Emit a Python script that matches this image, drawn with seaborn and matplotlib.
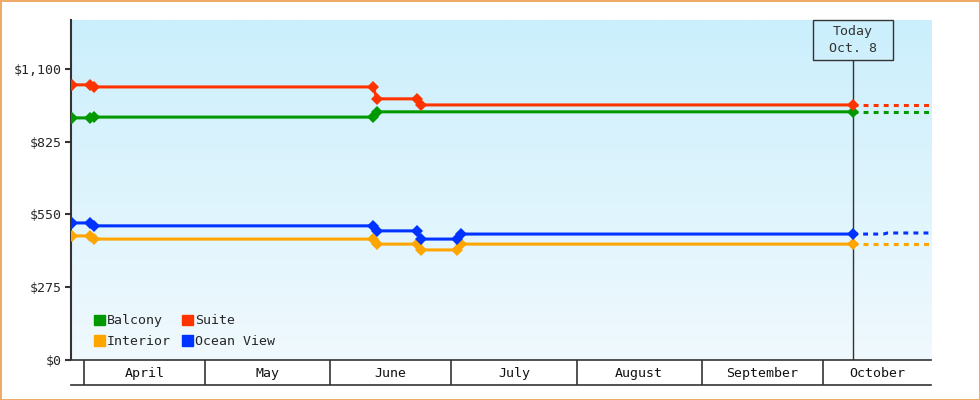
import numpy as np
import pandas as pd
import matplotlib
matplotlib.use('Agg')
import matplotlib.pyplot as plt
from matplotlib.patches import Patch, Rectangle
import seaborn as sns

# 价格数据（天数以4月1日为0）
balcony_days = [-3, 1.5, 2.5, 71.6, 72.6, 190.5]
balcony = [915, 915, 918, 918, 938, 938]
suite_days = [-3, 1.5, 2.5, 71.6, 72.6, 82.5, 83.5, 190.5]
suite = [1040, 1040, 1032, 1032, 987, 987, 964, 964]
interior_days = [-3, 1.5, 2.5, 71.6, 72.6, 82.5, 83.5, 92.5, 93.5, 190.5]
interior = [469, 469, 457, 457, 438, 438, 416, 416, 438, 438]
ocean_days = [-3, 1.5, 2.5, 71.6, 72.6, 82.5, 83.5, 92.5, 93.5, 190.5]
ocean_view = [518, 518, 507, 507, 488, 488, 457, 457, 476, 476]

# 预测部分（虚线）
proj_days = [190.5, 198, 199, 209.8]
proj_balcony = [938, 938, 938, 938]
proj_suite = [964, 964, 964, 964]
proj_interior = [438, 438, 438, 438]
proj_ocean_view = [476, 476, 480, 480]

months = ['April', 'May', 'June', 'July', 'August', 'September', 'October']
month_starts = [0, 30, 61, 91, 122, 153, 183, 209.8]
today = 190.5
today_label = 'Today\nOct. 8'

yticks = [0, 275, 550, 825, 1100]
colors = {'Balcony': '#009900', 'Suite': '#ff3300',
          'Interior': '#ffa500', 'Ocean View': '#0033ff'}

df = pd.concat([
    pd.DataFrame({'day': balcony_days, 'price': balcony, 'cabin': 'Balcony'}),
    pd.DataFrame({'day': suite_days, 'price': suite, 'cabin': 'Suite'}),
    pd.DataFrame({'day': interior_days, 'price': interior, 'cabin': 'Interior'}),
    pd.DataFrame({'day': ocean_days, 'price': ocean_view, 'cabin': 'Ocean View'}),
], ignore_index=True)
proj = {'Balcony': proj_balcony, 'Suite': proj_suite,
        'Interior': proj_interior, 'Ocean View': proj_ocean_view}

sns.set_style('white')
plt.rcParams['font.family'] = ['DejaVu Sans Mono']
plt.rcParams['font.size'] = 9.5

fig = plt.figure(figsize=(9.8, 4), dpi=100)
fig.patch.set_edgecolor('#eeaa66')
fig.patch.set_linewidth(2)

xmin, xmax = -3.2, 209.8
ymax = 1285
ax = fig.add_axes([71 / 980, 40 / 400, 860 / 980, 340 / 400])

# 渐变背景
grad = np.linspace(0, 1, 256).reshape(-1, 1)
cmap = matplotlib.colors.LinearSegmentedColormap.from_list('bg', ['#cbeffc', '#f0f9fe'])
ax.imshow(grad, cmap=cmap, aspect='auto', extent=[xmin, xmax, 0, ymax], zorder=0)

sns.lineplot(data=df, x='day', y='price', hue='cabin', palette=colors,
             marker='D', markersize=6.5, markeredgewidth=0, linewidth=2.2,
             estimator=None, sort=False, legend=False, ax=ax, zorder=3)
for name, vals in proj.items():
    ax.plot(proj_days, vals, color=colors[name], lw=2.2,
            dashes=(1.6, 1.7), dash_capstyle='butt', zorder=2)

ax.set_xlim(xmin, xmax)
ax.set_ylim(0, ymax)
ax.set_yticks(yticks)
ax.set_yticklabels([f'${v:,}' for v in yticks])
ax.set_xticks([])
ax.set_xlabel('')
ax.set_ylabel('')
ax.tick_params(axis='y', length=4, width=1.5, color='#333333', left=True, pad=3)
for s in ['top', 'right', 'bottom']:
    ax.spines[s].set_visible(False)
ax.spines['left'].set_color('#333333')
ax.spines['left'].set_linewidth(1.5)

# Today 标记
box_w = 80 / 4.038
box_h = 40 * ymax / 340
ax.add_patch(Rectangle((today - box_w / 2, ymax - box_h), box_w, box_h,
                       fill=False, ec='#333333', lw=1, zorder=4, clip_on=False))
ax.text(today, ymax - box_h / 2, today_label, ha='center', va='center',
        linespacing=1.4, color='#333333', zorder=4)
ax.vlines(today, 0, ymax - box_h, color='#333333', lw=1, zorder=1)

handles = [Patch(color=colors[n]) for n in ['Balcony', 'Interior', 'Suite', 'Ocean View']]
ax.legend(handles, ['Balcony', 'Interior', 'Suite', 'Ocean View'], ncol=2,
          loc='lower left', bbox_to_anchor=(0.013, 0.0), frameon=False,
          handlelength=0.8, handleheight=0.8, handletextpad=0.15,
          columnspacing=0.9, labelspacing=0.6)

# 月份条
ax2 = fig.add_axes([71 / 980, 15 / 400, 860 / 980, 25 / 400])
ax2.set_xlim(xmin, xmax)
ax2.set_ylim(0, 1)
ax2.set_xticks([])
ax2.set_yticks([])
for s in ['left', 'right']:
    ax2.spines[s].set_visible(False)
for s in ['top', 'bottom']:
    ax2.spines[s].set_color('#333333')
    ax2.spines[s].set_linewidth(1.2)
for m in month_starts[:-1]:
    ax2.axvline(m, color='#333333', lw=1.2)
for i, name in enumerate(months):
    ax2.text((month_starts[i] + month_starts[i + 1]) / 2, 0.45, name,
             ha='center', va='center', color='#111111')

fig.savefig('out.png', dpi=100)
